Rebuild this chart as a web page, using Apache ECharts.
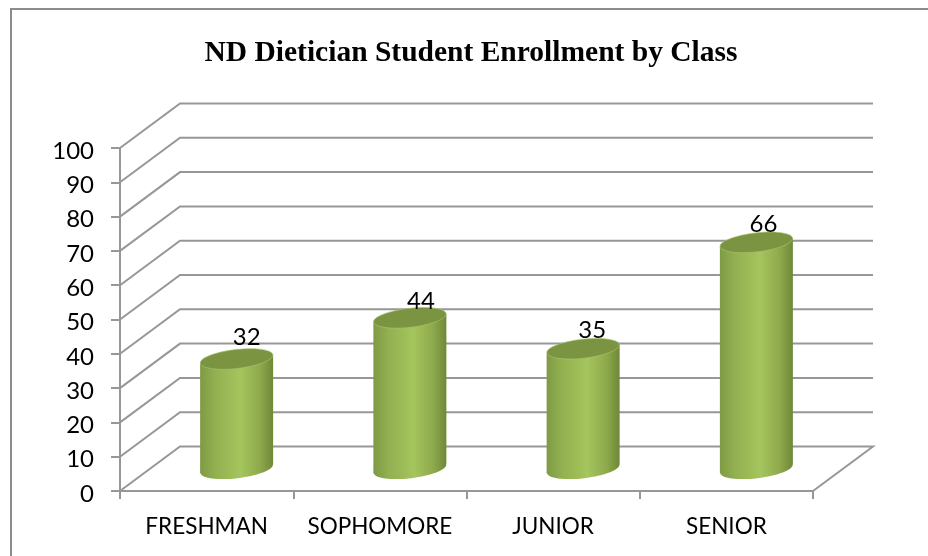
<!DOCTYPE html>
<html>
<head>
<meta charset="utf-8">
<title>ND Dietician Student Enrollment by Class</title>
<style>
html, body { margin: 0; padding: 0; background: #fff; }
#main { width: 928px; height: 556px; }
</style>
<script src="https://cdn.jsdelivr.net/npm/echarts@6/dist/echarts.min.js"></script>
</head>
<body>
<div id="main"></div>
<script>
var titleText = 'ND Dietician Student Enrollment by Class';
var categories = ['FRESHMAN', 'SOPHOMORE', 'JUNIOR', 'SENIOR'];
var enrollment = [32, 44, 35, 66];
var wallTicks = [0, 10, 20, 30, 40, 50, 60, 70, 80, 90, 100];

// 3d look: how far the back wall sits from the front plane
var depthX = 60, depthY = 44.5;
var lineColor = '#979797';
// hand nudges for the value labels, relative to cylinder top
var labelShift = [[10, -22], [11, -17], [9, -18], [7, -18]];

var chart = echarts.init(document.getElementById('main'), null, { renderer: 'canvas' });

function renderWall(params, api) {
	var cs = params.coordSys;
	var v = api.value(0);
	var y = api.coord([0, v])[1];
	var pts = [[cs.x, y], [cs.x + depthX, y - depthY], [cs.x + cs.width + depthX, y - depthY]];
	if (v === 0) {
		pts.push([cs.x + cs.width, y]);
	}
	return {
		type: 'polyline',
		shape: { points: pts },
		style: { stroke: lineColor, lineWidth: 2, fill: null },
		silent: true
	};
}

function renderCylinder(params, api) {
	var idx = api.value(0);
	var val = api.value(1);
	var p = api.coord([idx, val]);
	var base = api.coord([idx, 0]);
	var cx = p[0] + depthX / 2;
	var top = p[1] - depthY / 2;
	var bot = base[1] - depthY / 2;
	var rx = 36.5, ry = 9.5, tilt = 4.2;
	var sideFill = new echarts.graphic.LinearGradient(0, 0, 1, 0, [
		{ offset: 0, color: '#7e9a45' },
		{ offset: 0.2, color: '#92b050' },
		{ offset: 0.55, color: '#a5c55d' },
		{ offset: 0.82, color: '#8ea94c' },
		{ offset: 1, color: '#6f8838' }
	]);
	var rot = Math.atan2(tilt, rx);
	return {
		type: 'group',
		children: [{
			type: 'ellipse',
			shape: { cx: cx, cy: bot, rx: rx, ry: ry },
			originX: cx, originY: bot, rotation: rot,
			style: { fill: sideFill }
		}, {
			type: 'polygon',
			shape: { points: [
				[cx - rx, top + tilt], [cx + rx, top - tilt],
				[cx + rx, bot - tilt], [cx - rx, bot + tilt]
			] },
			style: { fill: sideFill }
		}, {
			type: 'ellipse',
			shape: { cx: cx, cy: top, rx: rx, ry: ry },
			originX: cx, originY: top, rotation: rot,
			style: { fill: '#7b9442', stroke: '#a9c56a', lineWidth: 0.6 }
		}, {
			type: 'text',
			style: {
				x: cx + labelShift[idx][0],
				y: top + labelShift[idx][1],
				text: String(val),
				fill: '#000',
				font: '24px Lato',
				align: 'center',
				verticalAlign: 'middle'
			}
		}]
	};
}

chart.setOption({
	animation: false,
	backgroundColor: '#fff',
	title: {
		text: titleText,
		left: 466,
		top: 33,
		textAlign: 'center',
		textStyle: {
			fontFamily: 'Liberation Serif',
			fontWeight: 'bold',
			fontSize: 29.5,
			color: '#000'
		}
	},
	graphic: [{
		type: 'polyline',
		shape: { points: [[11, 556], [11, 9], [928, 9]] },
		style: { stroke: '#8c8c8c', lineWidth: 2, fill: null },
		silent: true
	}],
	grid: { left: 120, right: 115, top: 148, bottom: 65 },
	xAxis: {
		type: 'category',
		data: categories,
		axisLine: { lineStyle: { color: lineColor, width: 2 } },
		axisTick: { show: true, length: 8, interval: 0, alignWithLabel: false, lineStyle: { color: lineColor, width: 2 } },
		axisLabel: { color: '#000', fontFamily: 'Lato', fontSize: 22.5, margin: 24, interval: 0, hideOverlap: false }
	},
	yAxis: {
		type: 'value',
		min: 0,
		max: 100,
		interval: 10,
		axisLine: { show: true, lineStyle: { color: lineColor, width: 2 } },
		axisTick: { show: true, length: 9, lineStyle: { color: lineColor, width: 2 } },
		axisLabel: {
			margin: 26,
			formatter: '{n|{value}}',
			rich: {
				n: { color: '#000', fontFamily: 'Lato', fontSize: 24, padding: [6, 0, 0, 0] }
			}
		},
		splitLine: { show: false }
	},
	series: [{
		type: 'custom',
		name: 'wall',
		coordinateSystem: 'cartesian2d',
		renderItem: renderWall,
		encode: { y: 0 },
		data: wallTicks.map(function (v) { return [v]; }),
		z: 1
	}, {
		type: 'custom',
		name: 'enrollment',
		coordinateSystem: 'cartesian2d',
		renderItem: renderCylinder,
		encode: { x: 0, y: 1 },
		data: enrollment.map(function (v, i) { return [i, v]; }),
		z: 3
	}]
});
</script>
</body>
</html>
